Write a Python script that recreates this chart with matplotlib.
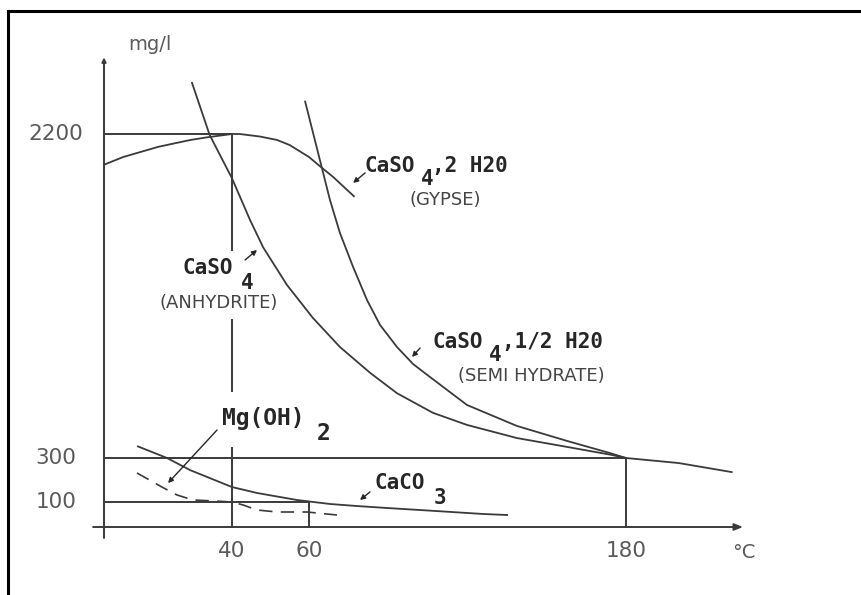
import numpy as np
import matplotlib
matplotlib.use('Agg')
import matplotlib.pyplot as plt
from matplotlib.lines import Line2D

W, H = 861, 595

# solubility curves: temperature (°C) / concentration (mg/l)
gypse_t = [0, 6, 17, 27, 32, 40, 42, 47.3, 51.7, 55, 60, 65, 69, 77]
gypse_c = [2020, 2065, 2125, 2165, 2180, 2200, 2200, 2185, 2165, 2135, 2065, 2000, 1950, 1835]

anhydrite_t = [27.5, 33, 40, 44.7, 48.1, 54.3, 61.5, 71.7, 83.1, 93.3,
               106.9, 119.8, 138.7, 157.7, 173.9, 180, 200, 220]
anhydrite_c = [2500, 2195, 1940, 1695, 1535, 1314, 1121, 951, 800, 680,
               565, 494, 417, 365, 320, 300, 277, 236]

semi_t = [59, 64.9, 67.9, 71.7, 76.7, 82, 86.9, 93.3, 99.4, 105.8, 119.8, 138.7, 157.7, 173.9, 180]
semi_c = [2390, 2000, 1815, 1620, 1420, 1225, 1080, 951, 851, 775, 611, 488, 400, 329, 300]

caco3_t = [10.6, 19.7, 26.9, 40, 46.5, 56.9, 68, 78, 89.5, 108, 126, 135]
caco3_c = [368, 300, 245, 168, 141, 109, 92, 84, 76, 64, 52, 48]

mgoh_t = [10.3, 18.1, 22.8, 27.8, 34.1, 40, 42.9, 46.5, 51.7, 59.5, 70.6]
mgoh_c = [232, 168, 132, 109, 105, 100, 88, 68, 60, 60, 48]

x_ticks = [40, 60, 180]
y_ticks = [100, 300, 2200]

# guide lines (x pairs, y pairs)
guides = [
    ([0, 40], [2200, 2200]),
    ([40, 40], [2200, 1520]),
    ([40, 40], [1110, 690]),
    ([40, 40], [360, 0]),
    ([0, 180], [300, 300]),
    ([180, 180], [300, 0]),
    ([0, 60], [100, 100]),
    ([60, 60], [100, 0]),
]

# pointer tips on the curves (°C, mg/l) and offset of the tail in points
pointers = [
    ((76.7, 1913), (8.6, 7.2)),
    ((46.5, 1520), (-8.6, -7.2)),
    ((99.0, 892), (5.8, 6.5)),
    ((20.0, 186), (35.3, 38.2)),
    ((79.3, 109), (7.2, 5.8)),
]

# the drawing's axes are not linear: piecewise scale through the labelled values
x_anchor = np.array([-100, 0, 40, 60, 180, 500])
x_pixel = np.array([-216, 104, 232, 309, 626, 1471.4])
y_anchor = np.array([-1000, 0, 100, 300, 2200, 6000])
y_pixel = np.array([-182, 68, 93, 137, 461, 1109])


def fx(v):
    return np.interp(v, x_anchor, x_pixel)


def ix(v):
    return np.interp(v, x_pixel, x_anchor)


def fy(v):
    return np.interp(v, y_anchor, y_pixel)


def iy(v):
    return np.interp(v, y_pixel, y_anchor)


LINE = '#3a3a3a'
GREY = '#5a5a5a'
INK = '#262626'

fig = plt.figure(figsize=(W / 100, H / 100), dpi=100)
ax = fig.add_axes([0, 0, 1, 1])
ax.set_xscale('function', functions=(fx, ix))
ax.set_yscale('function', functions=(fy, iy))
ax.set_xlim(ix(0), ix(W))
ax.set_ylim(iy(0), iy(H))
ax.axis('off')

# axes with arrows
ax.annotate('', xy=(224.3, 0), xytext=(-3.4, 0),
            arrowprops=dict(arrowstyle='-|>,head_length=0.5,head_width=0.2',
                            color=LINE, lw=1.4, shrinkA=0, shrinkB=0))
ax.annotate('', xy=(0, 2650), xytext=(0, -44),
            arrowprops=dict(arrowstyle='-|>,head_length=0.25,head_width=0.12',
                            color=LINE, lw=1.4, shrinkA=0, shrinkB=0))

for gx, gy in guides:
    ax.plot(gx, gy, color=LINE, lw=1.4)

ax.plot(gypse_t, gypse_c, color=LINE, lw=1.3)
ax.plot(anhydrite_t, anhydrite_c, color=LINE, lw=1.3)
ax.plot(semi_t, semi_c, color=LINE, lw=1.3)
ax.plot(caco3_t, caco3_c, color=LINE, lw=1.3)
ax.plot(mgoh_t, mgoh_c, color=LINE, lw=1.2, linestyle=(0, (8, 5)))

for tip, off in pointers:
    ax.annotate('', xy=tip, xytext=off, textcoords='offset points',
                arrowprops=dict(arrowstyle='-|>,head_length=0.3,head_width=0.15',
                                color=INK, lw=1.0, shrinkA=0, shrinkB=0))

for t in x_ticks:
    ax.annotate(str(t), xy=(t, 0), xytext=(0, -17.5), textcoords='offset points',
                ha='center', va='center', fontsize=15.5, color=GREY)
for c in y_ticks:
    ax.annotate(str(c), xy=(0, c), xytext=(-34.5, 0), textcoords='offset points',
                ha='center', va='center', fontsize=15.5, color=GREY)


def label(x, y, s, ha='left', bold=True, size=15, color=INK):
    if bold:
        fig.text(x / W, 1 - y / H, s, ha=ha, va='center', fontsize=size,
                 family='DejaVu Sans Mono', weight='bold', color=color)
    else:
        fig.text(x / W, 1 - y / H, s, ha=ha, va='center', fontsize=size,
                 family='DejaVu Sans', color=color)


label(150, 45, 'mg/l', ha='center', bold=False, size=14, color=GREY)
label(744, 552, '°C', ha='center', bold=False, size=14, color=GREY)

label(365, 166, 'CaSO')
label(421, 179, '4')
label(432, 166, ',2 H20')
label(445, 200, '(GYPSE)', ha='center', bold=False, size=13, color='#444444')

label(183, 268, 'CaSO')
label(241, 283, '4')
label(219, 303, '(ANHYDRITE)', ha='center', bold=False, size=13, color='#444444')

label(432, 342, 'CaSO')
label(489, 355, '4')
label(502, 342, ',1/2 H20')
label(531, 376, '(SEMI HYDRATE)', ha='center', bold=False, size=13, color='#444444')

label(222, 418, 'Mg(OH)', size=16.5)
label(317, 434, '2', size=16.5)

label(375, 483, 'CaCO')
label(434, 498, '3')

# page frame (top and left edges of the scanned box)
fig.add_artist(Line2D([8 / W, 8 / W], [0, 1 - 11 / H], transform=fig.transFigure,
                      color='black', lw=2.2))
fig.add_artist(Line2D([8 / W, 1], [1 - 11 / H, 1 - 11 / H], transform=fig.transFigure,
                      color='black', lw=2.2))

fig.savefig('out.png', dpi=100, facecolor='white')
